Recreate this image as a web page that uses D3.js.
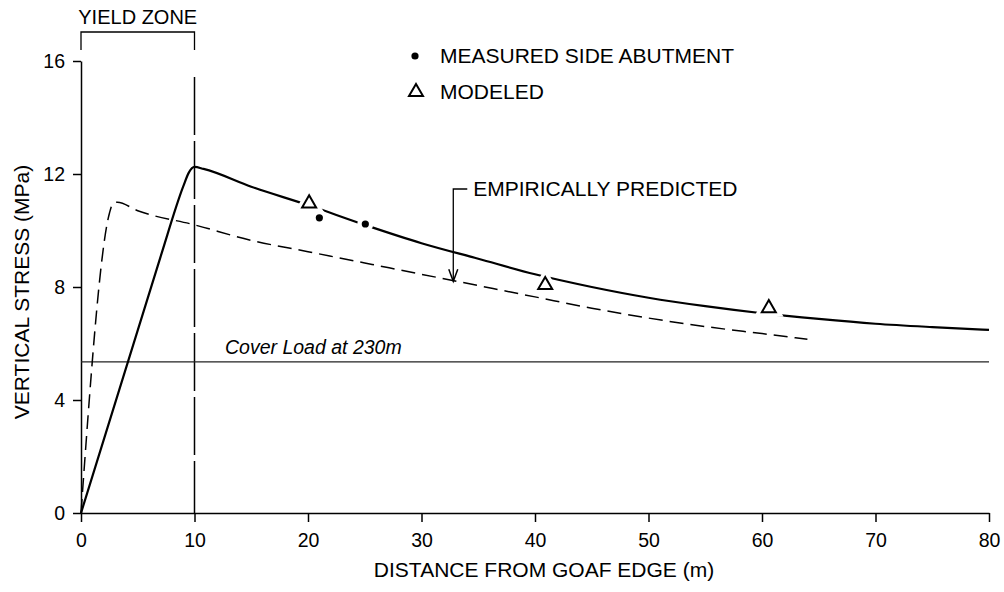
<!DOCTYPE html>
<html>
<head>
<meta charset="utf-8">
<script src="https://cdn.jsdelivr.net/npm/d3@7"></script>
<style>
  body { margin: 0; background: #fff; }
  svg text { font-family: "Liberation Sans", Arial, sans-serif; fill: #000; }
</style>
</head>
<body>
<div id="chart"></div>
<script>
// values (distance m, stress MPa)
var xTicks = [0, 10, 20, 30, 40, 50, 60, 70, 80];
var yTicks = [0, 4, 8, 12, 16];

var curveX = [0, 7, 9, 9.5, 10, 10.8, 15, 20, 25, 30, 35, 40, 45, 50, 55, 60, 65, 70, 75, 80];
var curveY = [0, 9.06, 11.55, 12.05, 12.25, 12.18, 11.55, 10.9, 10.2, 9.55, 9.0, 8.45, 8.0, 7.62, 7.32, 7.07, 6.87, 6.7, 6.58, 6.48];

var empiricalX = [0, 2.5, 2.8, 3.2, 5, 10, 15, 20, 25, 30, 35, 40, 45, 50, 55, 60, 64];
var empiricalY = [0, 10.6, 10.95, 11.0, 10.7, 10.2, 9.65, 9.25, 8.85, 8.45, 8.05, 7.65, 7.25, 6.9, 6.6, 6.35, 6.15];

var measuredX = [21.0, 25.05];
var measuredY = [10.45, 10.23];

var modeledX = [20.1, 40.9, 60.6];
var modeledY = [10.96, 8.07, 7.25];

var coverLoad = 5.35;
var yieldEdge = 10;
var arrowX = 32.8;

var W = 1004, H = 592;
var FS = "21px";
var svg = d3.select("#chart").append("svg")
  .attr("width", W).attr("height", H);

var x = d3.scaleLinear().domain([0, 80]).range([81, 989]);
var y = d3.scaleLinear().domain([0, 16]).range([513, 61]);

function zip(xs, ys) {
  return xs.map(function (v, i) { return [v, ys[i]]; });
}

var line = d3.line()
  .x(function (d) { return x(d[0]); })
  .y(function (d) { return y(d[1]); })
  .curve(d3.curveMonotoneX);

// axes
var xAxis = svg.append("g")
  .attr("transform", "translate(0," + y(0) + ")")
  .call(d3.axisBottom(x).tickValues(xTicks).tickSize(9).tickSizeOuter(0).tickPadding(11));
var yAxis = svg.append("g")
  .attr("transform", "translate(" + x(0) + ",0)")
  .call(d3.axisLeft(y).tickValues(yTicks).tickSize(8).tickSizeOuter(0).tickPadding(8));

[xAxis, yAxis].forEach(function (g) {
  g.select(".domain").attr("stroke", "#000").attr("stroke-width", 1.5);
  g.selectAll(".tick line").attr("stroke", "#000").attr("stroke-width", 1.5);
  g.selectAll(".tick text")
    .style("font-family", "'Liberation Sans', Arial, sans-serif")
    .style("font-size", "19.5px").attr("fill", "#000");
});

svg.append("text")
  .attr("x", 544).attr("y", 577)
  .attr("text-anchor", "middle")
  .style("font-size", FS)
  .text("DISTANCE FROM GOAF EDGE (m)");

svg.append("text")
  .attr("transform", "translate(29,292) rotate(-90)")
  .attr("text-anchor", "middle")
  .style("font-size", FS)
  .text("VERTICAL STRESS (MPa)");

// yield zone bracket + dashed boundary at 10 m
svg.append("path")
  .attr("d", "M" + x(0) + ",50V32H" + x(yieldEdge) + "V50")
  .attr("fill", "none").attr("stroke", "#000").attr("stroke-width", 1.3);
svg.append("line")
  .attr("x1", x(yieldEdge)).attr("x2", x(yieldEdge))
  .attr("y1", 77).attr("y2", y(0))
  .attr("stroke", "#000").attr("stroke-width", 1.5)
  .attr("stroke-dasharray", "58,6");
svg.append("text")
  .attr("x", (x(0) + x(yieldEdge)) / 2).attr("y", 24)
  .attr("text-anchor", "middle")
  .style("font-size", "20px")
  .text("YIELD ZONE");

// cover load
svg.append("line")
  .attr("x1", x(0)).attr("x2", x(80))
  .attr("y1", y(coverLoad)).attr("y2", y(coverLoad))
  .attr("stroke", "#222").attr("stroke-width", 1.2);
svg.append("text")
  .attr("x", 225).attr("y", y(coverLoad) - 8)
  .style("font-size", "19.5px").style("font-style", "italic")
  .text("Cover Load at 230m");

// curves
svg.append("path")
  .attr("d", line(zip(empiricalX, empiricalY)))
  .attr("fill", "none").attr("stroke", "#000").attr("stroke-width", 1.5)
  .attr("stroke-dasharray", "14,7");
svg.append("path")
  .attr("d", line(zip(curveX, curveY)))
  .attr("fill", "none").attr("stroke", "#000").attr("stroke-width", 2.2);

// white gaps around markers, then the markers
var tri = d3.symbol().type(d3.symbolTriangle).size(85);
var modeled = zip(modeledX, modeledY);
var measured = zip(measuredX, measuredY);

svg.selectAll(".halo-tri").data(modeled).enter().append("path")
  .attr("d", tri)
  .attr("transform", function (d) { return "translate(" + x(d[0]) + "," + y(d[1]) + ")"; })
  .attr("fill", "#fff").attr("stroke", "#fff").attr("stroke-width", 9);
svg.selectAll(".halo-dot").data(measured).enter().append("circle")
  .attr("cx", function (d) { return x(d[0]); })
  .attr("cy", function (d) { return y(d[1]); })
  .attr("r", 8).attr("fill", "#fff");

svg.selectAll(".tri").data(modeled).enter().append("path")
  .attr("d", tri)
  .attr("transform", function (d) { return "translate(" + x(d[0]) + "," + y(d[1]) + ")"; })
  .attr("fill", "#fff").attr("stroke", "#000").attr("stroke-width", 2);
svg.selectAll(".dot").data(measured).enter().append("circle")
  .attr("cx", function (d) { return x(d[0]); })
  .attr("cy", function (d) { return y(d[1]); })
  .attr("r", 3.6).attr("fill", "#000");

// empirically predicted pointer
var ax = x(arrowX);
var tipY = y(8.2);
svg.append("path")
  .attr("d", "M" + (ax + 14) + ",189H" + ax + "V" + tipY)
  .attr("fill", "none").attr("stroke", "#000").attr("stroke-width", 1.3);
svg.append("path")
  .attr("d", "M" + (ax - 4.5) + "," + (tipY - 12) + "L" + ax + "," + tipY + "L" + (ax + 4.5) + "," + (tipY - 12))
  .attr("fill", "none").attr("stroke", "#000").attr("stroke-width", 1.5);
svg.append("text")
  .attr("x", ax + 20).attr("y", 196)
  .style("font-size", FS)
  .text("EMPIRICALLY PREDICTED");

// legend
svg.append("circle").attr("cx", 415).attr("cy", 56).attr("r", 3.6).attr("fill", "#000");
svg.append("text").attr("x", 440).attr("y", 63).style("font-size", FS)
  .text("MEASURED SIDE ABUTMENT");
svg.append("path").attr("d", tri)
  .attr("transform", "translate(416,92)")
  .attr("fill", "#fff").attr("stroke", "#000").attr("stroke-width", 2);
svg.append("text").attr("x", 440).attr("y", 99).style("font-size", FS)
  .text("MODELED");
</script>
</body>
</html>
